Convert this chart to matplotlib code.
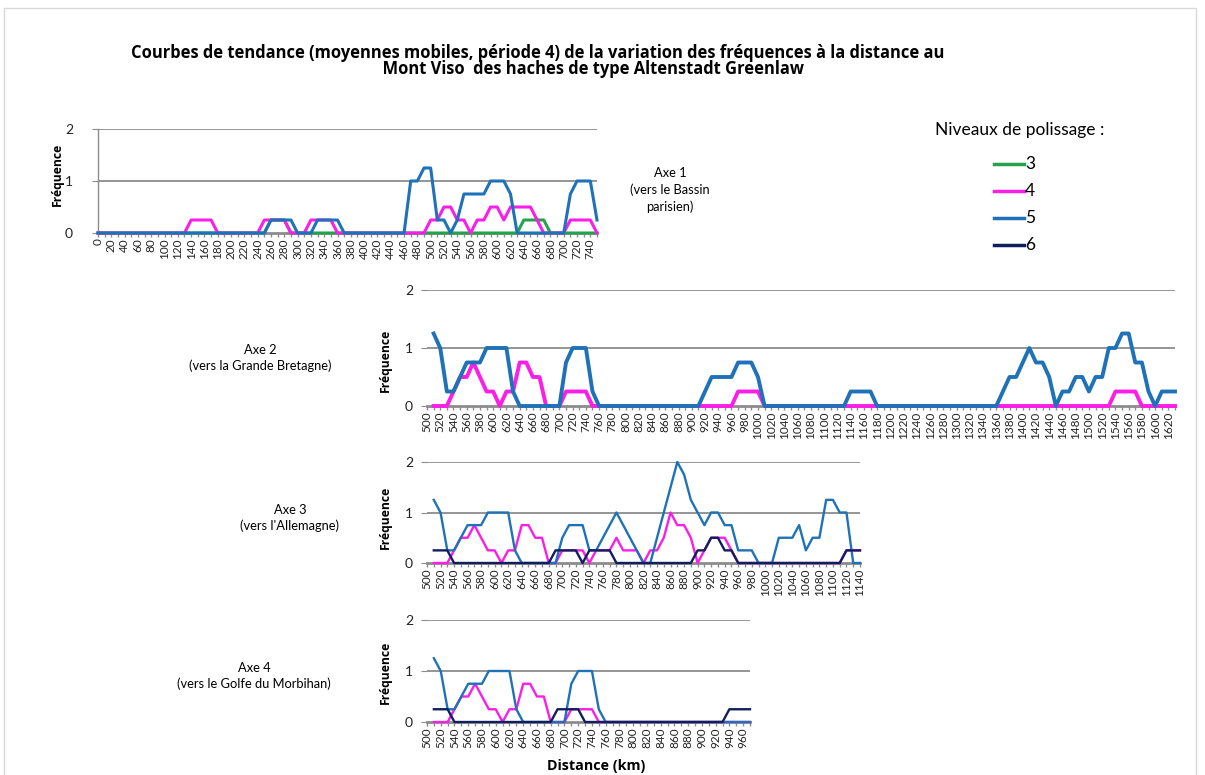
import numpy as np
import matplotlib
matplotlib.use("Agg")
import matplotlib.pyplot as plt
from matplotlib.lines import Line2D
from matplotlib.patches import Rectangle

plt.rcParams['font.family'] = ['Lato', 'DejaVu Sans']
bold_font = ['Open Sans', 'DejaVu Sans']

nan = np.nan

# couleurs des niveaux de polissage
colors = {"3": "#24a34c", "4": "#fa1ee6", "5": "#1f72b8", "6": "#0f1f5e"}
grid_color = "#8c8c8c"

# ---- Axe 1 : 0 - 750 km
dist_1 = list(range(0, 760, 10))
n3_axe1 = [0, 0, 0, 0, 0, 0, 0, 0, 0, 0,
           0, 0, 0, 0, 0, 0, 0, 0, 0, 0,
           0, 0, 0, 0, 0, 0, 0.25, 0.25, 0.25, 0,
           0, 0, 0, 0, 0, 0, 0, 0, 0, 0,
           0, 0, 0, 0, 0, 0, 0, 0, 0, 0,
           0, 0, 0, 0, 0, 0, 0, 0, 0, 0,
           0, 0, 0, 0, 0.25, 0.25, 0.25, 0.25, 0, 0,
           0, 0, 0, 0, 0, 0]
n4_axe1 = [0, 0, 0, 0, 0, 0, 0, 0, 0, 0,
           0, 0, 0, 0, 0.25, 0.25, 0.25, 0.25, 0, 0,
           0, 0, 0, 0, 0, 0.25, 0.25, 0.25, 0.25, 0,
           0, 0, 0.25, 0.25, 0.25, 0.25, 0, 0, 0, 0,
           0, 0, 0, 0, 0, 0, 0, 0, 0, 0,
           0.25, 0.25, 0.5, 0.5, 0.25, 0.25, 0, 0.25, 0.25, 0.5,
           0.5, 0.25, 0.5, 0.5, 0.5, 0.5, 0.25, 0, 0, 0,
           0, 0.25, 0.25, 0.25, 0.25, 0]
n5_axe1 = [0, 0, 0, 0, 0, 0, 0, 0, 0, 0,
           0, 0, 0, 0, 0, 0, 0, 0, 0, 0,
           0, 0, 0, 0, 0, 0, 0.25, 0.25, 0.25, 0.25,
           0, 0, 0, 0.25, 0.25, 0.25, 0.25, 0, 0, 0,
           0, 0, 0, 0, 0, 0, 0, 1, 1, 1.25,
           1.25, 0.25, 0.25, 0, 0.25, 0.75, 0.75, 0.75, 0.75, 1,
           1, 1, 0.75, 0, 0, 0, 0, 0, 0, 0,
           0, 0.75, 1, 1, 1, 0.25]

# ---- Axe 2 : 500 - 1630 km
dist_2 = list(range(500, 1640, 10))
n4_axe2 = [nan, 0, 0, 0, 0.25, 0.5, 0.5, 0.75, 0.5, 0.25,
           0.25, 0, 0.25, 0.25, 0.75, 0.75, 0.5, 0.5, 0, 0,
           0, 0.25, 0.25, 0.25, 0.25, 0, 0, 0, 0, 0,
           0, 0, 0, 0, 0, 0, 0, 0, 0, 0,
           0, 0, 0, 0, 0, 0, 0, 0.25, 0.25, 0.25,
           0.25, 0, 0, 0, 0, 0, 0, 0, 0, 0,
           0, 0, 0, 0, 0, 0, 0, 0, 0, 0,
           0, 0, 0, 0, 0, 0, 0, 0, 0, 0,
           0, 0, 0, 0, 0, 0, 0, 0, 0, 0,
           0, 0, 0, 0, 0, 0, 0, 0, 0, 0,
           0, 0, 0, 0, 0.25, 0.25, 0.25, 0.25, 0, 0,
           0, 0, 0, 0]
n5_axe2 = [nan, 1.25, 1, 0.25, 0.25, 0.5, 0.75, 0.75, 0.75, 1,
           1, 1, 1, 0.25, 0, 0, 0, 0, 0, 0,
           0, 0.75, 1, 1, 1, 0.25, 0, 0, 0, 0,
           0, 0, 0, 0, 0, 0, 0, 0, 0, 0,
           0, 0, 0.25, 0.5, 0.5, 0.5, 0.5, 0.75, 0.75, 0.75,
           0.5, 0, 0, 0, 0, 0, 0, 0, 0, 0,
           0, 0, 0, 0, 0.25, 0.25, 0.25, 0.25, 0, 0,
           0, 0, 0, 0, 0, 0, 0, 0, 0, 0,
           0, 0, 0, 0, 0, 0, 0, 0.25, 0.5, 0.5,
           0.75, 1, 0.75, 0.75, 0.5, 0, 0.25, 0.25, 0.5, 0.5,
           0.25, 0.5, 0.5, 1, 1, 1.25, 1.25, 0.75, 0.75, 0.25,
           0, 0.25, 0.25, 0.25]

# ---- Axe 3 : 500 - 1140 km
dist_3 = list(range(500, 1150, 10))
n4_axe3 = [nan, 0, 0, 0, 0.25, 0.5, 0.5, 0.75, 0.5, 0.25,
           0.25, 0, 0.25, 0.25, 0.75, 0.75, 0.5, 0.5, 0, 0,
           0.25, 0.25, 0.25, 0.25, 0, 0.25, 0.25, 0.25, 0.5, 0.25,
           0.25, 0.25, 0, 0.25, 0.25, 0.5, 1, 0.75, 0.75, 0.5,
           0, 0.25, 0.5, 0.5, 0.5, 0.25, 0, 0, 0, 0,
           0, 0, 0, 0, 0, 0, 0, 0, 0, 0,
           0, 0, 0.25, 0.25, 0.25]
n5_axe3 = [nan, 1.25, 1, 0.25, 0.25, 0.5, 0.75, 0.75, 0.75, 1,
           1, 1, 1, 0.25, 0, 0, 0, 0, 0, 0,
           0.5, 0.75, 0.75, 0.75, 0.25, 0.25, 0.5, 0.75, 1, 0.75,
           0.5, 0.25, 0, 0, 0.5, 1, 1.5, 2, 1.75, 1.25,
           1, 0.75, 1, 1, 0.75, 0.75, 0.25, 0.25, 0.25, 0,
           0, 0, 0.5, 0.5, 0.5, 0.75, 0.25, 0.5, 0.5, 1.25,
           1.25, 1, 1, 0, 0]
n6_axe3 = [nan, 0.25, 0.25, 0.25, 0, 0, 0, 0, 0, 0,
           0, 0, 0, 0, 0, 0, 0, 0, 0, 0.25,
           0.25, 0.25, 0.25, 0, 0.25, 0.25, 0.25, 0.25, 0, 0,
           0, 0, 0, 0, 0, 0, 0, 0, 0, 0,
           0.25, 0.25, 0.5, 0.5, 0.25, 0.25, 0, 0, 0, 0,
           0, 0, 0, 0, 0, 0, 0, 0, 0, 0,
           0, 0, 0.25, 0.25, 0.25]

# ---- Axe 4 : 500 - 970 km
dist_4 = list(range(500, 980, 10))
n4_axe4 = [nan, 0, 0, 0, 0.25, 0.5, 0.5, 0.75, 0.5, 0.25,
           0.25, 0, 0.25, 0.25, 0.75, 0.75, 0.5, 0.5, 0, 0,
           0, 0.25, 0.25, 0.25, 0.25, 0, 0, 0, 0, 0,
           0, 0, 0, 0, 0, 0, 0, 0, 0, 0,
           0, 0, 0, 0, 0, 0, 0, 0]
n5_axe4 = [nan, 1.25, 1, 0.25, 0.25, 0.5, 0.75, 0.75, 0.75, 1,
           1, 1, 1, 0.25, 0, 0, 0, 0, 0, 0,
           0, 0.75, 1, 1, 1, 0.25, 0, 0, 0, 0,
           0, 0, 0, 0, 0, 0, 0, 0, 0, 0,
           0, 0, 0, 0, 0, 0, 0, 0]
n6_axe4 = [nan, 0.25, 0.25, 0.25, 0, 0, 0, 0, 0, 0,
           0, 0, 0, 0, 0, 0, 0, 0, 0, 0.25,
           0.25, 0.25, 0.25, 0, 0, 0, 0, 0, 0, 0,
           0, 0, 0, 0, 0, 0, 0, 0, 0, 0,
           0, 0, 0, 0, 0.25, 0.25, 0.25, 0.25]

title_1 = "Courbes de tendance (moyennes mobiles, période 4) de la variation des fréquences à la distance au"
title_2 = "Mont Viso  des haches de type Altenstadt Greenlaw"

W, H = 1205, 775
fig = plt.figure(figsize=(W / 100, H / 100), dpi=100)


def px_rect(left, top, right, bottom):
    return [left / W, 1 - bottom / H, (right - left) / W, (bottom - top) / H]


def fig_xy(x, y):
    return x / W, 1 - y / H


def draw_panel(rect, dist, series, lw, ypad, yaxis_line=False):
    ax = fig.add_axes(rect)
    x = np.arange(len(dist))
    for level, vals in series:
        ax.plot(x, vals, color=colors[level], lw=lw, clip_on=False,
                solid_joinstyle='round', zorder=3)
    ax.set_xlim(0, len(dist) - 1)
    ax.set_ylim(0, 2)
    for yv in [1, 2]:
        ax.axhline(yv, color=grid_color, lw=1.3, zorder=1)
    ax.set_yticks([0, 1, 2])
    ax.set_yticklabels(["0", "1", "2"])
    ax.tick_params(axis='y', length=4, color=grid_color, labelsize=10,
                   pad=ypad, labelcolor="#222222")
    ax.set_xticks(x)
    ax.set_xticklabels([str(d) if i % 2 == 0 else "" for i, d in enumerate(dist)])
    ax.tick_params(axis='x', length=3, width=1, color=grid_color,
                   labelsize=8.5, labelrotation=90, pad=1,
                   labelcolor="#222222")
    for s in ["top", "right"]:
        ax.spines[s].set_visible(False)
    ax.spines["bottom"].set_color(grid_color)
    ax.spines["bottom"].set_linewidth(2)
    ax.spines["bottom"].set_zorder(2)
    ax.spines["left"].set_visible(yaxis_line)
    ax.spines["left"].set_color(grid_color)
    ax.spines["left"].set_linewidth(1)
    return ax


draw_panel(px_rect(98, 129, 597, 233), dist_1,
           [("3", n3_axe1), ("4", n4_axe1), ("5", n5_axe1)], 2.2, 14, True)
draw_panel(px_rect(427, 290, 1175, 406), dist_2,
           [("4", n4_axe2), ("5", n5_axe2)], 2.8, 6)
draw_panel(px_rect(427, 462, 860, 563), dist_3,
           [("4", n4_axe3), ("5", n5_axe3), ("6", n6_axe3)], 1.7, 6)
draw_panel(px_rect(427, 620, 750, 722), dist_4,
           [("4", n4_axe4), ("5", n5_axe4), ("6", n6_axe4)], 1.7, 6)

# titre (un seul bloc, la 2e ligne est décalée vers la droite comme dans l'original)
fig.text(*fig_xy(538, 61), title_1 + "\n" + " " * 26 + title_2,
         ha="center", va="center", multialignment="center", linespacing=0.92,
         fontsize=11.9, fontweight="bold", family=bold_font)

# libellés des axes
for x, y in [(57, 174), (385, 360), (385, 517), (385, 672)]:
    fig.text(*fig_xy(x, y), "Fréquence", rotation=90, ha="center", va="center",
             fontsize=8.7, fontweight="bold", family=bold_font)
fig.text(*fig_xy(596, 766), "Distance (km)", ha="center", va="center",
         fontsize=10.3, fontweight="bold", family=bold_font)

# noms des axes de diffusion
axe_labels = [
    (670, 190, "Axe 1\n(vers le Bassin\nparisien)"),
    (260, 358, "Axe 2\n(vers la Grande Bretagne)"),
    (290, 518, "Axe 3\n(vers l'Allemagne)"),
    (254, 676, "Axe 4\n(vers le Golfe du Morbihan)"),
]
for x, y, txt in axe_labels:
    fig.text(*fig_xy(x, y), txt, ha="center", va="center", fontsize=9.3,
             linespacing=1.4)

# légende
fig.text(*fig_xy(1020, 130), "Niveaux de polissage :", ha="center", va="center",
         fontsize=12.5)
for i, level in enumerate(["3", "4", "5", "6"]):
    y = 164 + i * 27
    x0, y0 = fig_xy(994, y)
    x1, _ = fig_xy(1024, y)
    fig.add_artist(Line2D([x0, x1], [y0, y0], color=colors[level], lw=2.5,
                          transform=fig.transFigure))
    fig.text(*fig_xy(1025, y), level, ha="left", va="center", fontsize=12.5)

# cadre
fig.add_artist(Rectangle((4 / W, -0.01), (1196 - 4) / W, 1 - 8 / H + 0.01,
                         transform=fig.transFigure, fill=False,
                         edgecolor="#d9d9d9", lw=1))

fig.savefig("out.png", dpi=100)
